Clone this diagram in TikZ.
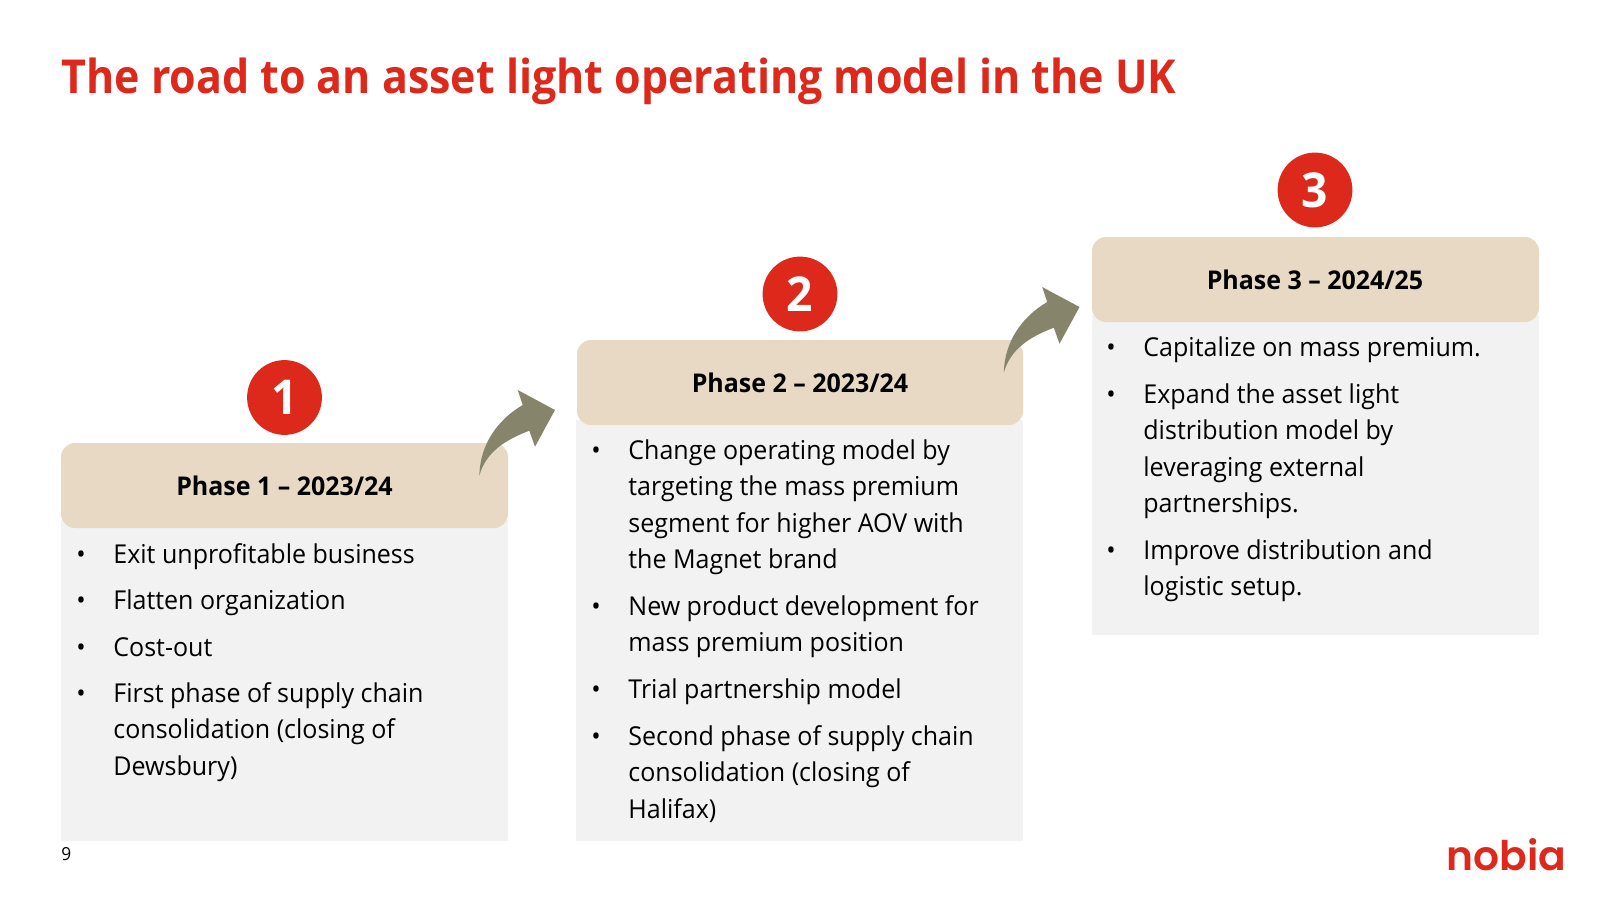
\documentclass[tikz,border=0pt]{standalone}
\usepackage{fontspec}
\setmainfont{Open Sans}[FakeStretch=0.962]
\newfontfamily\titlefont{Open Sans}[BoldFeatures={FakeStretch=0.918}]
\newfontfamily\headfont{Open Sans}[BoldFeatures={FakeStretch=0.968}]
\newfontfamily\logofont{Poppins}[UprightFont=* SemiBold]
\definecolor{nred}{HTML}{DD291C}
\definecolor{ntan}{HTML}{E8D9C5}
\definecolor{ngray}{HTML}{F2F2F2}
\definecolor{nolive}{HTML}{86856B}
\tikzset{
 x=0.5pt,y=-0.5pt,
 panel/.style={fill=ngray,draw=none},
 head/.style={fill=ntan,draw=none,rounded corners=7pt},
 badge/.style={circle,fill=nred,draw=none,minimum size=37.4pt,inner sep=0pt,text=white,font=\fontsize{24}{24}\selectfont\bfseries},
 headtext/.style={anchor=base,inner sep=0pt,font=\headfont\bfseries\fontsize{12.9}{16}\selectfont},
 body/.style={anchor=north west,inner sep=0pt,align=left,font=\fontsize{13}{18.22}\selectfont},
 arrowshape/.style={fill=nolive,draw=none},
}
\newcommand{\bitem}[5]{%
 \node[body] (#1b) at (#2,#4) {\rule{0pt}{14pt}•};
 \node[body] (#1) at (#3,#4) {\rule{0pt}{14pt}#5};
}
\newcommand{\bendarrow}[2]{%
 \fill[arrowshape,shift={(#1,#2)}] (479.3,475.7) .. controls (480,445) and (497,420) .. (522.7,405) -- (517.7,390) -- (555,410) -- (535,446.7) -- (529.3,430.7) .. controls (505,440) and (486,452) .. (479.3,475.7) -- cycle;
}
\begin{document}
\begin{tikzpicture}
\useasboundingbox (0,0) rectangle (1600,900);
\node[anchor=base west,inner sep=0pt,text=nred,font=\titlefont\bfseries\fontsize{23.4}{28}\selectfont] (title) at (61,93) {The road to an asset light operating model in the UK};

\fill[panel] (61,520) rectangle (508,841);
\fill[panel] (576,420) rectangle (1023,841);
\fill[panel] (1092,315) rectangle (1539,635);
\fill[head] (61,443) rectangle (508,528);
\fill[head] (577,340) rectangle (1023,425);
\fill[head] (1092,237) rectangle (1539,322);

\node[headtext] (h1) at (284.5,495) {Phase 1 – 2023/24};
\node[headtext] (h2) at (800,392) {Phase 2 – 2023/24};
\node[headtext] (h3) at (1315,289) {Phase 3 – 2024/25};

\node[badge] (c1) at (284.5,397.5) {1};
\node[badge] (c2) at (800,294) {2};
\node[badge] (c3) at (1315,190) {3};

\bendarrow{0}{0}
\bendarrow{524.5}{-103}

\bitem{a1}{76}{113}{535.5}{Exit unprofitable business}
\bitem{a2}{76}{113}{581.5}{Flatten organization}
\bitem{a3}{76}{113}{628}{Cost-out}
\bitem{a4}{76}{113}{674}{First phase of supply chain\\consolidation (closing of\\Dewsbury)}

\bitem{b1}{591}{628}{431}{Change operating model by\\targeting the mass premium\\segment for higher AOV with\\the Magnet brand}
\bitem{b2}{591}{628}{587}{New product development for\\mass premium position}
\bitem{b3}{591}{628}{670}{Trial partnership model}
\bitem{b4}{591}{628}{717}{Second phase of supply chain\\consolidation (closing of\\Halifax)}

\bitem{c1t}{1106}{1143}{328}{Capitalize on mass premium.}
\bitem{c2t}{1106}{1143}{375}{Expand the asset light\\distribution model by\\leveraging external\\partnerships.}
\bitem{c3t}{1106}{1143}{531}{Improve distribution and\\logistic setup.}

\node[anchor=base west,inner sep=0pt,font=\fontsize{9}{11}\selectfont] (pg) at (61,860) {9};
\node[anchor=base east,inner sep=0pt,text=nred,font=\logofont\fontsize{20.4}{24}\selectfont] (logo) at (1567,870) {nobia};
\end{tikzpicture}
\end{document}
